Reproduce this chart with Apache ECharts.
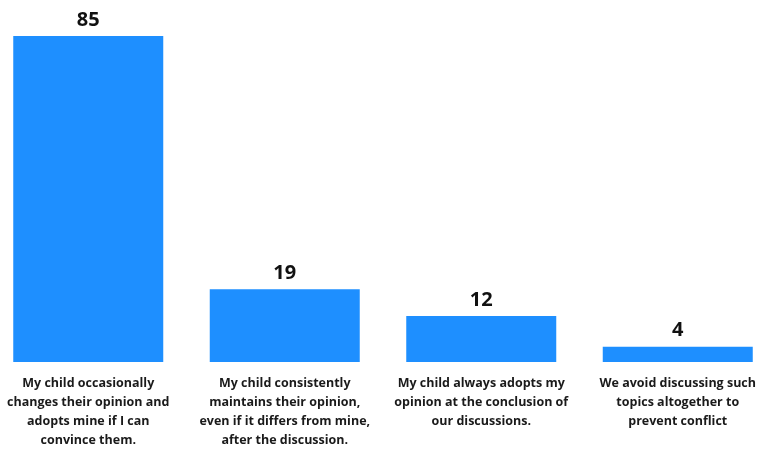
<!DOCTYPE html>
<html><head><meta charset="utf-8">
<script src="https://cdn.jsdelivr.net/npm/echarts@6/dist/echarts.min.js"></script>
<style>html,body{margin:0;padding:0;background:#fff;overflow:hidden;width:770px;height:450px}#c{width:786px;height:450px;margin-left:-10px}</style>
</head><body><div id="c"></div>
<script>
var categories = [
  "My child occasionally\nchanges their opinion and\nadopts mine if I can\nconvince them.",
  "My child consistently\nmaintains their opinion,\neven if it differs from mine,\nafter the discussion.",
  "My child always adopts my\nopinion at the conclusion of\nour discussions.",
  "We avoid discussing such\ntopics altogether to\nprevent conflict"
];
var values = [85, 19, 12, 4];

var chart = echarts.init(document.getElementById('c'));
chart.setOption({
  animation: false,
  grid: { left: 0, right: 0, top: 36, bottom: 86, containLabel: false },
  xAxis: {
    type: 'category', data: categories,
    axisLine: { show: false }, axisTick: { show: false },
    axisLabel: { interval: 0, margin: 12, fontFamily: 'Open Sans', fontWeight: 'bold', fontSize: 12.5, color: '#1a1a1a', lineHeight: 19, align: 'center' }
  },
  yAxis: { type: 'value', min: 0, max: 85, show: false, splitLine: { show: false } },
  series: [{
    type: 'bar', data: values, barWidth: 150,
    itemStyle: { color: '#1E8FFF' },
    label: { show: true, position: 'top', distance: 6, fontFamily: 'Open Sans', fontWeight: 'bold', fontSize: 20, color: '#111' }
  }]
});
</script></body></html>
